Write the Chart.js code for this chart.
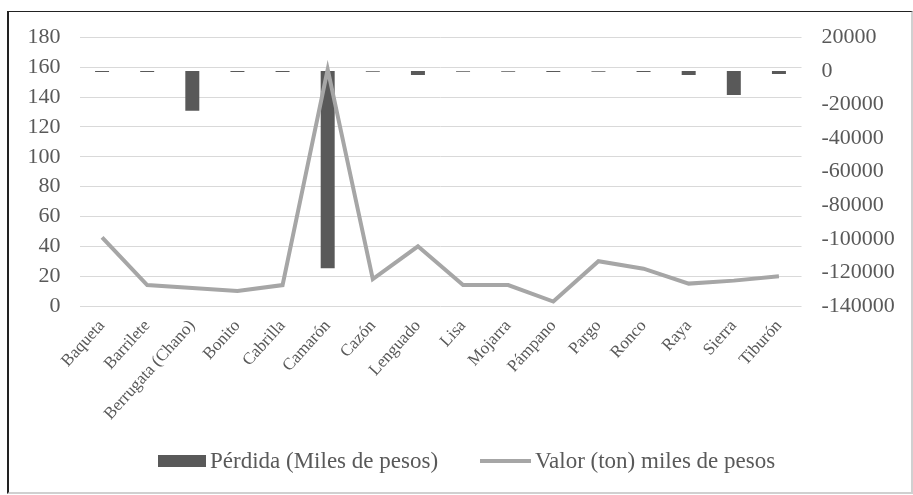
<!DOCTYPE html>
<html>
<head>
<meta charset="utf-8">
<script src="https://cdn.jsdelivr.net/npm/chart.js@4"></script>
<style>
  html, body { margin: 0; padding: 0; background: #ffffff; }
  #wrap { position: relative; width: 913px; height: 495px; }
  #c { position: absolute; left: 0; top: 0; }
  #frame { position: absolute; left: 7px; top: 11px; width: 902px; height: 480px;
           border-left: 2px solid #222; border-top: 1px solid #222;
           border-right: 2px solid #d0d0d0; border-bottom: 2px solid #d0d0d0; pointer-events: none; }
</style>
</head>
<body>
<div id="wrap">
  <canvas id="c" width="913" height="495"></canvas>
  <div id="frame"></div>
</div>
<script>
const categories = ['Baqueta', 'Barrilete', 'Berrugata (Chano)', 'Bonito', 'Cabrilla', 'Camarón', 'Cazón', 'Lenguado', 'Lisa', 'Mojarra', 'Pámpano', 'Pargo', 'Ronco', 'Raya', 'Sierra', 'Tiburón'];
const perdida = [-700, -700, -23700, -700, -700, -117500, -500, -2400, -500, -500, -700, -500, -700, -2400, -14300, -1800];
const valor = [46, 14, 12, 10, 14, 158.5, 18, 40, 14, 14, 3, 30, 25, 15, 17, 20];
const leftTicks = [0, 180, 20];
const rightTicks = [-140000, 20000, 20000];
const seriesNames = ['Pérdida (Miles de pesos)', 'Valor (ton) miles de pesos'];

const TEXT = '#595959';
const FONT = "'Liberation Serif', 'DejaVu Serif', serif";

const legendPlugin = {
  id: 'customLegend',
  afterDraw(chart) {
    const ctx = chart.ctx;
    const ds = chart.data.datasets;
    const y = 461;
    ctx.save();
    ctx.font = '23px ' + FONT;
    ctx.textBaseline = 'middle';
    ctx.fillStyle = ds[0].backgroundColor;
    ctx.fillRect(158, y - 6, 48, 12);
    ctx.fillStyle = TEXT;
    ctx.textAlign = 'left';
    ctx.fillText(ds[0].label, 210, y + 1);
    ctx.strokeStyle = ds[1].borderColor;
    ctx.lineWidth = 4;
    ctx.beginPath();
    ctx.moveTo(480, y);
    ctx.lineTo(531, y);
    ctx.stroke();
    ctx.fillText(ds[1].label, 535, y + 1);
    ctx.restore();
  }
};

new Chart(document.getElementById('c'), {
  type: 'bar',
  data: {
    labels: categories,
    datasets: [
      {
        type: 'bar',
        label: seriesNames[0],
        data: perdida,
        backgroundColor: '#595959',
        yAxisID: 'yR',
        order: 1,
        categoryPercentage: 1,
        barPercentage: 0.31
      },
      {
        type: 'line',
        label: seriesNames[1],
        data: valor,
        borderColor: '#a6a6a6',
        backgroundColor: '#a6a6a6',
        borderWidth: 4,
        pointRadius: 0,
        tension: 0,
        yAxisID: 'yL',
        order: 0
      }
    ]
  },
  options: {
    responsive: false,
    animation: false,
    layout: { padding: { top: 37.3, left: 0, right: 0, bottom: 0 } },
    plugins: { legend: { display: false }, tooltip: { enabled: false } },
    scales: {
      x: {
        grid: { display: false },
        border: { display: false },
        ticks: {
          color: TEXT,
          font: { family: FONT, size: 17 },
          minRotation: 48, maxRotation: 48,
          autoSkip: false,
          padding: 2
        },
        afterFit(s) { s.height = 189; }
      },
      yL: {
        position: 'left',
        min: leftTicks[0], max: leftTicks[1],
        ticks: { stepSize: leftTicks[2], color: TEXT, font: { family: FONT, size: 22 }, padding: 19 },
        grid: { color: '#d9d9d9', lineWidth: 1, drawTicks: false },
        border: { display: false },
        afterFit(s) { s.width = 79.5; }
      },
      yR: {
        position: 'right',
        min: rightTicks[0], max: rightTicks[1],
        ticks: { stepSize: rightTicks[2], color: TEXT, font: { family: FONT, size: 22 }, padding: 20,
                 callback: (v) => String(v) },
        grid: { display: false, drawTicks: false },
        border: { display: false },
        afterFit(s) { s.width = 111.5; }
      }
    }
  },
  plugins: [legendPlugin]
});
</script>
</body>
</html>
